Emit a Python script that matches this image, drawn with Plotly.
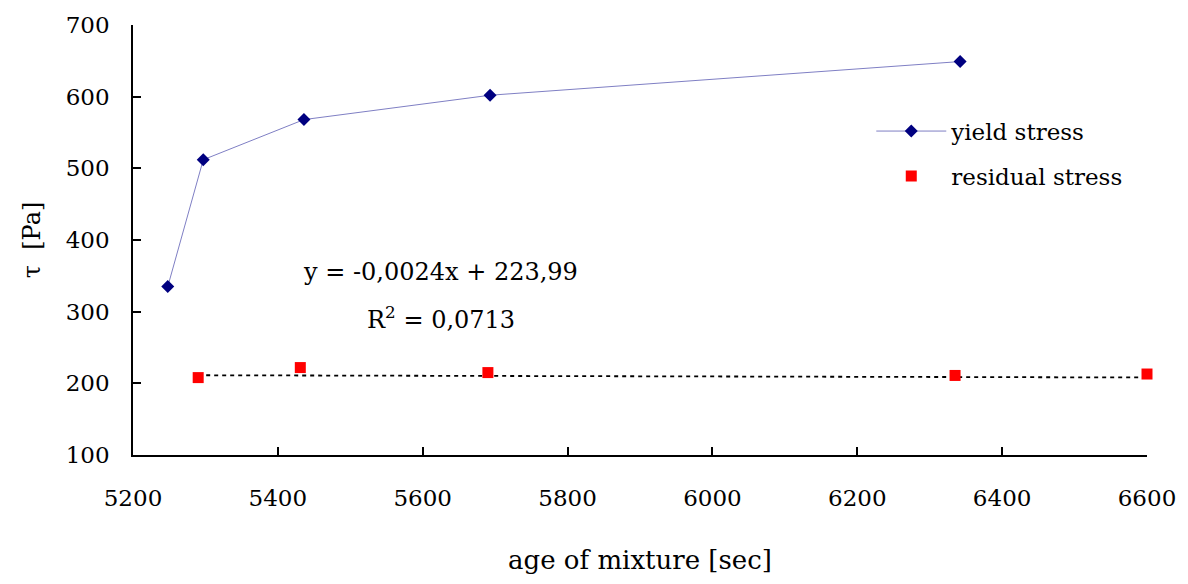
import plotly.graph_objects as go

# Yield stress measurements
yield_age = [5248, 5297, 5436, 5693, 6342]
yield_tau = [335, 512, 568, 602, 649]

# Residual stress measurements
resid_age = [5290, 5431, 5690, 6335, 6600]
resid_tau = [208, 222, 215, 211, 213]

# Linear trend of the residual stress
trend_slope = -0.0024
trend_intercept = 223.99
trend_r2 = 0.0713

x_ticks = [5200, 5400, 5600, 5800, 6000, 6200, 6400, 6600]
y_ticks = [100, 200, 300, 400, 500, 600, 700]

FONT = "DejaVu Serif"

trend_x = [min(resid_age), max(resid_age)]
trend_y = [trend_slope * x + trend_intercept for x in trend_x]

fig = go.Figure()

fig.add_trace(go.Scatter(
    x=trend_x, y=trend_y, mode="lines",
    line=dict(color="black", width=1.8, dash="4px,4px"),
    showlegend=False, hoverinfo="skip",
))

fig.add_trace(go.Scatter(
    x=yield_age, y=yield_tau, mode="lines+markers", name="yield stress",
    legendgroup="a",
    line=dict(color="#7f7fc4", width=1),
    marker=dict(symbol="diamond", size=10, color="#000080"),
    cliponaxis=False,
))

fig.add_trace(go.Scatter(
    x=resid_age, y=resid_tau, mode="markers", name="residual stress",
    legendgroup="b",
    marker=dict(symbol="square", size=11, color="#ff0000"),
    cliponaxis=False,
))

eq_x = (441 - 133) / (1148 - 133)
fig.add_annotation(
    x=eq_x, y=(455 - 271) / 432, xref="paper", yref="paper",
    text="y = -0,0024x + 223,99", showarrow=False,
    font=dict(family=FONT, size=24, color="black"),
    xanchor="center", yanchor="middle",
)
fig.add_annotation(
    x=eq_x, y=(455 - 317) / 432, xref="paper", yref="paper",
    text="R<sup>2</sup> = 0,%s" % str(trend_r2).split(".")[1], showarrow=False,
    font=dict(family=FONT, size=24, color="black"),
    xanchor="center", yanchor="middle",
)

fig.update_layout(
    width=1188, height=584,
    margin=dict(l=133, r=40, t=23, b=129),
    paper_bgcolor="white", plot_bgcolor="white",
    font=dict(family=FONT, size=23, color="black"),
    legend=dict(
        x=(872 - 133) / 1015, y=(455 - 108) / 432,
        xanchor="left", yanchor="top",
        bgcolor="rgba(0,0,0,0)", itemwidth=70,
        font=dict(family=FONT, size=23, color="black"),
        traceorder="grouped", tracegroupgap=12,
    ),
    xaxis=dict(
        range=[5200, 6600], tickvals=x_ticks,
        showgrid=False, zeroline=False,
        showline=True, linecolor="black", linewidth=1.5,
        ticks="inside", ticklen=8, tickcolor="black", tickwidth=1.5,
        ticklabelstandoff=22,
        tickfont=dict(family=FONT, size=23),
        title=dict(text="age of mixture [sec]", standoff=40,
                   font=dict(family=FONT, size=26)),
    ),
    yaxis=dict(
        range=[100, 700], tickvals=y_ticks,
        showgrid=False, zeroline=False,
        showline=True, linecolor="black", linewidth=1.5,
        ticks="inside", ticklen=8, tickcolor="black", tickwidth=1.5,
        ticklabelstandoff=17,
        tickfont=dict(family=FONT, size=23),
        title=dict(text="τ  [Pa]", standoff=18,
                   font=dict(family=FONT, size=24)),
    ),
)

fig.write_html("out.html")
